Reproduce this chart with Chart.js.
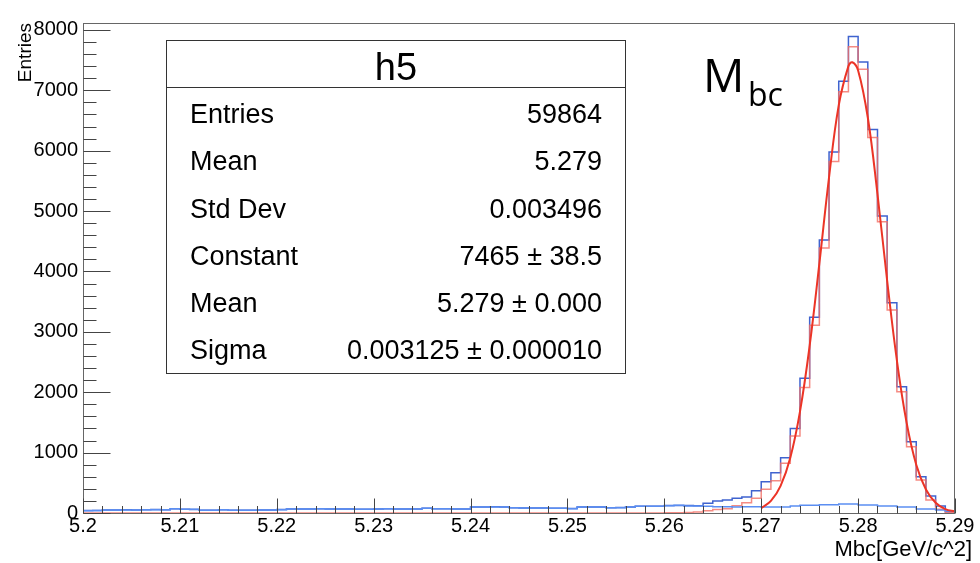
<!DOCTYPE html>
<html><head><meta charset="utf-8">
<script src="https://cdn.jsdelivr.net/npm/chart.js@4.4.0/dist/chart.umd.min.js"></script>
<style>html,body{margin:0;padding:0;background:#fff;}canvas{display:block;}</style>
</head><body>
<canvas id="c" width="980" height="563"></canvas>
<script>
const xMin = 5.20, xMax = 5.29, binWidth = 0.001;
const yMin = 0, yMax = 8115;
const xTickValues = [5.20, 5.21, 5.22, 5.23, 5.24, 5.25, 5.26, 5.27, 5.28, 5.29];
const xTickLabels = ["5.2", "5.21", "5.22", "5.23", "5.24", "5.25", "5.26", "5.27", "5.28", "5.29"];
const yTickValues = [0, 1000, 2000, 3000, 4000, 5000, 6000, 7000, 8000];
const yTickLabels = ["0", "1000", "2000", "3000", "4000", "5000", "6000", "7000", "8000"];

// total (dark blue) histogram, 90 bins of 0.001 from 5.200
const totalCounts = [
  40, 42, 50, 50, 52, 50, 55, 56, 55, 72,
  62, 60, 45, 44, 55, 45, 44, 46, 50, 50,
  56, 66, 66, 68, 72, 66, 66, 66, 62, 61,
  66, 72, 66, 67, 66, 77, 72, 72, 66, 66,
  100, 100, 102, 100, 88, 84, 83, 83, 77, 78,
  75, 100, 100, 100, 88, 90, 100, 112, 112, 110,
  125, 125, 125, 120, 160, 200, 215, 245, 265, 370,
  518, 668, 916, 1400, 2230, 3240, 4520, 5980, 7150, 7890,
  7470, 6352, 4917, 3482, 2091, 1180, 601, 281, 116, 22
];
// signal (light red) histogram
const signalCounts = [
  0, 0, 0, 0, 0, 0, 0, 0, 0, 0,
  0, 0, 0, 0, 0, 0, 0, 0, 0, 0,
  0, 0, 0, 0, 0, 0, 0, 0, 0, 0,
  0, 0, 0, 0, 0, 0, 0, 0, 0, 0,
  0, 0, 0, 0, 0, 0, 0, 0, 0, 0,
  0, 0, 0, 0, 0, 0, 0, 0, 0, 0,
  3, 3, 8, 15, 38, 60, 70, 120, 171, 243,
  392, 535, 823, 1275, 2080, 3110, 4390, 5820, 6975, 7720,
  7350, 6220, 4823, 3361, 2008, 1098, 546, 215, 61, 5
];
// background (light blue) histogram
const backgroundCounts = [
  38, 40, 50, 50, 50, 50, 55, 55, 55, 72,
  62, 62, 44, 44, 55, 44, 44, 44, 50, 50,
  55, 66, 66, 66, 72, 66, 66, 66, 61, 61,
  66, 72, 66, 66, 66, 77, 72, 72, 66, 66,
  100, 100, 100, 100, 88, 83, 83, 83, 77, 77,
  72, 100, 100, 100, 88, 88, 100, 110, 110, 110,
  121, 127, 116, 116, 110, 105, 105, 100, 105, 105,
  99, 99, 99, 116, 127, 127, 138, 138, 149, 149,
  132, 132, 116, 116, 99, 99, 66, 66, 50, 33
];
// Gaussian fit curve
const fitX = [5.270, 5.271, 5.272, 5.273, 5.274, 5.275, 5.276, 5.277, 5.278, 5.279, 5.2794, 5.280, 5.281, 5.282, 5.283, 5.284, 5.285, 5.286, 5.287, 5.288, 5.289, 5.290];
const fitY = [80, 200, 450, 915, 1680, 2770, 4130, 5560, 6750, 7400, 7465, 7330, 6550, 5280, 3845, 2530, 1500, 800, 390, 170, 65, 25];

const statsTitle = "h5";
const statsLabels = ["Entries", "Mean", "Std Dev", "Constant", "Mean", "Sigma"];
const statsValues = ["59864", "5.279", "0.003496", "7465 \u00b1 38.5", "5.279 \u00b1 0.000", "0.003125 \u00b1 0.000010"];
const xTitle = "Mbc[GeV/c^2]";
const yTitle = "Entries";

const binEdges = totalCounts.map((_, k) => +(xMin + k * binWidth).toFixed(4));
function stepData(arr) {
  const d = arr.map((v, k) => ({x: binEdges[k], y: v}));
  d.push({x: xMax, y: arr[arr.length - 1]});
  return d;
}

const overlay = {
  id: 'overlay',
  afterDraw(chart) {
    const ctx = chart.ctx, a = chart.chartArea, xs = chart.scales.x, ys = chart.scales.y;
    ctx.save();
    // frame
    ctx.strokeStyle = '#666'; ctx.lineWidth = 1;
    ctx.strokeRect(Math.round(a.left) + 0.5, Math.round(a.top) + 0.5, Math.round(a.right - a.left) - 1, Math.round(a.bottom - a.top));
    // ticks
    ctx.strokeStyle = '#444';
    ctx.beginPath();
    const b = Math.round(a.bottom) + 0.5, l = Math.round(a.left) + 0.5;
    for (let i = 0; i < xTickValues.length; i++) {
      const px = Math.round(xs.getPixelForValue(xTickValues[i])) + 0.5;
      ctx.moveTo(px, b); ctx.lineTo(px, b - 15);
      if (i < xTickValues.length - 1) {
        const st = (xTickValues[i + 1] - xTickValues[i]) / 5;
        for (let j = 1; j < 5; j++) {
          const mx = Math.round(xs.getPixelForValue(xTickValues[i] + j * st)) + 0.5;
          ctx.moveTo(mx, b); ctx.lineTo(mx, b - 7.5);
        }
      }
    }
    for (let i = 0; i < yTickValues.length; i++) {
      const py = Math.round(ys.getPixelForValue(yTickValues[i])) + 0.5;
      ctx.moveTo(l, py); ctx.lineTo(l + 27, py);
      const st = 200;
      for (let j = 1; j < 5; j++) {
        const v = yTickValues[i] + j * st;
        if (v > yMax) break;
        const my = Math.round(ys.getPixelForValue(v)) + 0.5;
        ctx.moveTo(l, my); ctx.lineTo(l + 13, my);
      }
    }
    ctx.stroke();

    // axis titles
    ctx.fillStyle = '#000';
    ctx.font = '19px "Liberation Sans", Arial, sans-serif';
    ctx.save();
    ctx.translate(31, 23); ctx.rotate(-Math.PI / 2);
    ctx.textAlign = 'right'; ctx.textBaseline = 'alphabetic';
    ctx.fillText(yTitle, 0, 0);
    ctx.restore();
    ctx.font = '22px "Liberation Sans", Arial, sans-serif';
    ctx.textAlign = 'right'; ctx.textBaseline = 'alphabetic';
    ctx.fillText(xTitle, 972, 556);

    // stats box
    ctx.fillStyle = '#fff';
    ctx.fillRect(166.5, 40.5, 459, 333);
    ctx.strokeStyle = '#333'; ctx.lineWidth = 1;
    ctx.strokeRect(166.5, 40.5, 459, 333);
    ctx.beginPath(); ctx.moveTo(166.5, 87.5); ctx.lineTo(625.5, 87.5); ctx.stroke();
    ctx.fillStyle = '#000';
    ctx.font = '38px "Liberation Sans", Arial, sans-serif';
    ctx.textAlign = 'center';
    ctx.fillText(statsTitle, 396, 80);
    ctx.font = '27px "Liberation Sans", Arial, sans-serif';
    const baselines = [122.5, 170, 217.5, 265, 312, 358.5];
    for (let i = 0; i < statsLabels.length; i++) {
      ctx.textAlign = 'left'; ctx.fillText(statsLabels[i], 190, baselines[i]);
      ctx.textAlign = 'right'; ctx.fillText(statsValues[i], 602, baselines[i]);
    }
    // M_bc label
    ctx.textAlign = 'left';
    ctx.font = '46px "Open Sans", sans-serif';
    ctx.fillText('M', 703, 92);
    ctx.font = '32px "Open Sans", sans-serif';
    ctx.fillText('bc', 748, 106);
    ctx.restore();
  }
};

new Chart(document.getElementById('c'), {
  type: 'line',
  data: {
    datasets: [
      {label: 'fit', data: fitX.map((x, i) => ({x: x, y: fitY[i]})), borderColor: '#ec3426', borderWidth: 2, pointRadius: 0, tension: 0.4, fill: false, order: 0},
      {label: 'background', data: stepData(backgroundCounts), stepped: 'before', borderColor: '#5b8ef2', borderWidth: 1.5, pointRadius: 0, fill: false, order: 1},
      {label: 'signal', data: stepData(signalCounts), stepped: 'before', borderColor: 'rgba(242,110,100,0.8)', borderWidth: 1.5, pointRadius: 0, fill: false, order: 2},
      {label: 'total', data: stepData(totalCounts), stepped: 'before', borderColor: '#3f63cf', borderWidth: 1.5, pointRadius: 0, fill: false, order: 3}
    ]
  },
  options: {
    responsive: false, animation: false, devicePixelRatio: 1, events: [],
    layout: {padding: {left: 0, top: 23, right: 25, bottom: 0}},
    plugins: {legend: {display: false}, tooltip: {enabled: false}},
    scales: {
      x: {
        type: 'linear', min: xMin, max: xMax,
        grid: {display: false, drawTicks: false}, border: {display: false},
        afterBuildTicks: s => { s.ticks = xTickValues.map(v => ({value: v})); },
        afterFit: s => { s.height = 50; },
        ticks: {autoSkip: false, maxRotation: 0, minRotation: 0, padding: 1, color: '#000',
          font: {family: '"Liberation Sans", Arial, sans-serif', size: 20},
          callback: (v, i) => xTickLabels[i]}
      },
      y: {
        type: 'linear', min: yMin, max: yMax,
        grid: {display: false, drawTicks: false}, border: {display: false},
        afterBuildTicks: s => { s.ticks = yTickValues.map(v => ({value: v})); },
        afterFit: s => { s.width = 83; },
        ticks: {autoSkip: false, padding: 5, color: '#000',
          font: {family: '"Liberation Sans", Arial, sans-serif', size: 20},
          callback: (v, i) => yTickLabels[i]}
      }
    }
  },
  plugins: [overlay]
});
</script>
</body></html>
